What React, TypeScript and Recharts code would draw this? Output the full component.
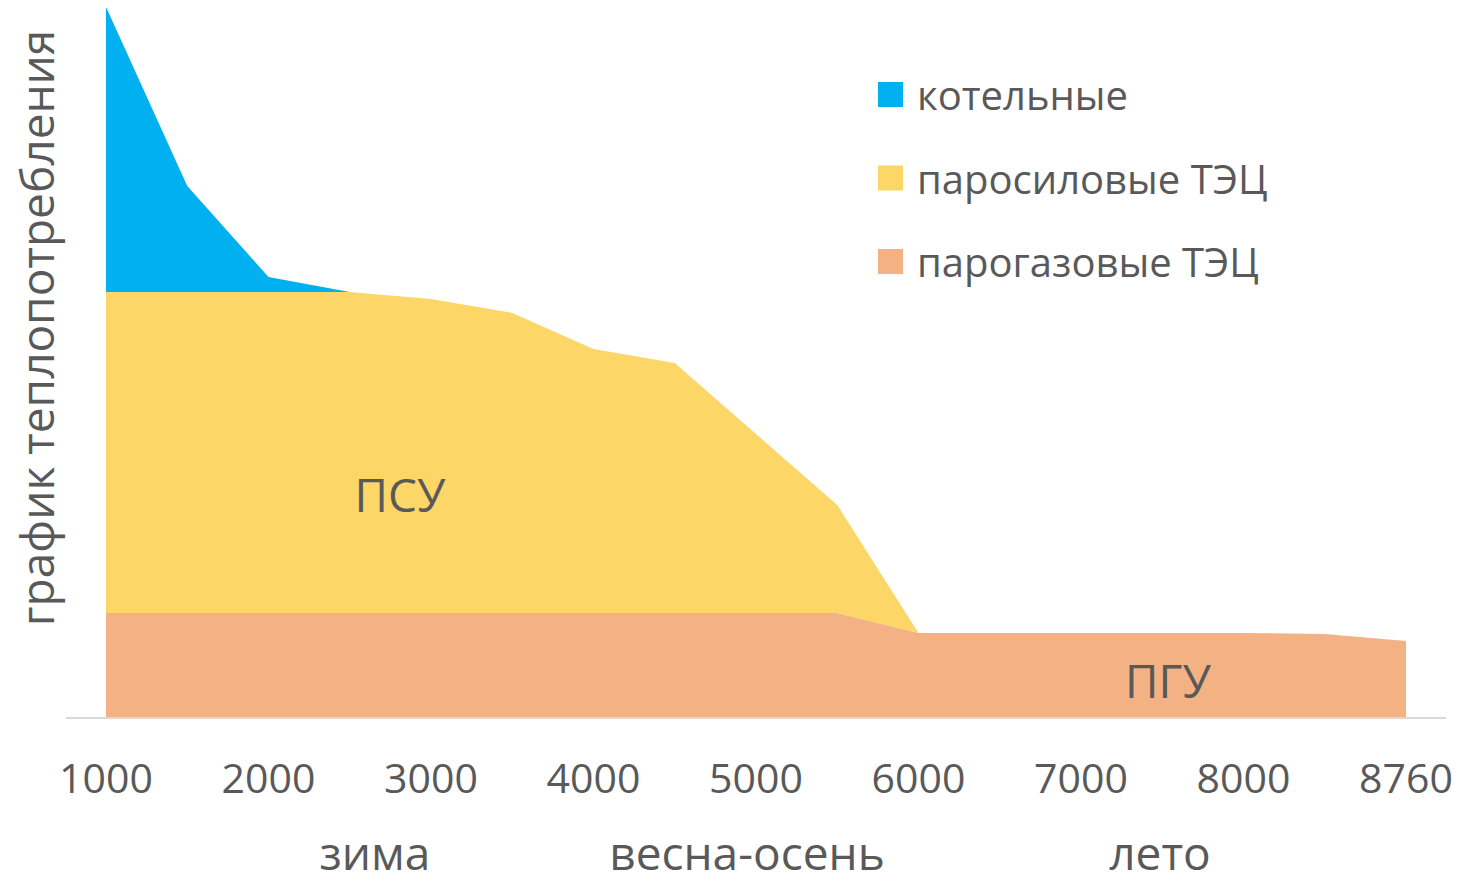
import React from 'react';
import { AreaChart, Area, XAxis, YAxis } from 'recharts';

const categories = ['1000','1500','2000','2500','3000','3500','4000','4500','5000','5500','6000','6500','7000','7500','8000','8500','8760'];
const gasCHP = [105,105,105,105,105,105,105,105,105,105,85,85,85,85,85,84,77];
const steamCHP = [321,321,321,321,314,300,264,250,179,108,0,0,0,0,0,0,0];
const boilers = [285,106,15,0,0,0,0,0,0,0,0,0,0,0,0,0,0];

const seriesNames = ['котельные', 'паросиловые ТЭЦ', 'парогазовые ТЭЦ'];
const seriesColors = ['#00B0F0', '#FDD668', '#F4B183'];
const seasons = [
  { text: 'зима', x: 375 },
  { text: 'весна-осень', x: 747 },
  { text: 'лето', x: 1160 },
];
const yTitle = 'график теплопотребления';

const data = categories.map((c, i) => ({ x: c, gas: gasCHP[i], steam: steamCHP[i], boil: boilers[i] }));

const FONT = "'Open Sans', 'Noto Sans', sans-serif";
const TEXT = '#595959';

const Tick = (props: any) => {
  const { x, y, payload } = props;
  return (
    <text x={x} y={y + 75} textAnchor="middle" fill={TEXT} fontSize={41} fontFamily={FONT}>
      {payload.value}
    </text>
  );
};

const Overlay = () => (
  <svg width={1466} height={883} style={{ position: 'absolute', left: 0, top: 0, pointerEvents: 'none' }}>
    <g fontFamily={FONT} fill={TEXT}>
      <text x={36} y={328} transform="rotate(-90, 36, 328)" textAnchor="middle" dominantBaseline="central" fontSize={46}>{yTitle}</text>
      <text x={400} y={512} textAnchor="middle" fontSize={46}>ПСУ</text>
      <text x={1168} y={698} textAnchor="middle" fontSize={46}>ПГУ</text>
      {seasons.map((s) => (
        <text key={s.text} x={s.x} y={870} textAnchor="middle" fontSize={46}>{s.text}</text>
      ))}
      {seriesNames.map((n, i) => (
        <g key={n}>
          <rect x={878} y={82 + i * 83.5} width={25} height={25} fill={seriesColors[i]} />
          <text x={917} y={94.5 + i * 83.5} dominantBaseline="central" fontSize={40}>{n}</text>
        </g>
      ))}
    </g>
  </svg>
);

export default function App() {
  return (
    <div style={{ position: 'absolute', left: 0, top: 0, width: 1466, height: 883, background: '#fff' }}>
      <AreaChart width={1466} height={883} data={data} margin={{ top: 8, right: 20, bottom: 135, left: 66 }}>
        <XAxis
          dataKey="x"
          height={30}
          padding={{ left: 40, right: 40 }}
          axisLine={{ stroke: '#D9D9D9', strokeWidth: 2 }}
          tickLine={false}
          tickSize={0}
          tickMargin={0}
          interval={1}
          tick={<Tick />}
        />
        <YAxis hide domain={[0, 710]} allowDataOverflow />
        <Area type="linear" dataKey="gas" name={seriesNames[2]} stackId="a" stroke="none" fill={seriesColors[2]} fillOpacity={1} isAnimationActive={false} />
        <Area type="linear" dataKey="steam" name={seriesNames[1]} stackId="a" stroke="none" fill={seriesColors[1]} fillOpacity={1} isAnimationActive={false} />
        <Area type="linear" dataKey="boil" name={seriesNames[0]} stackId="a" stroke="none" fill={seriesColors[0]} fillOpacity={1} isAnimationActive={false} />
      </AreaChart>
      <Overlay />
    </div>
  );
}
